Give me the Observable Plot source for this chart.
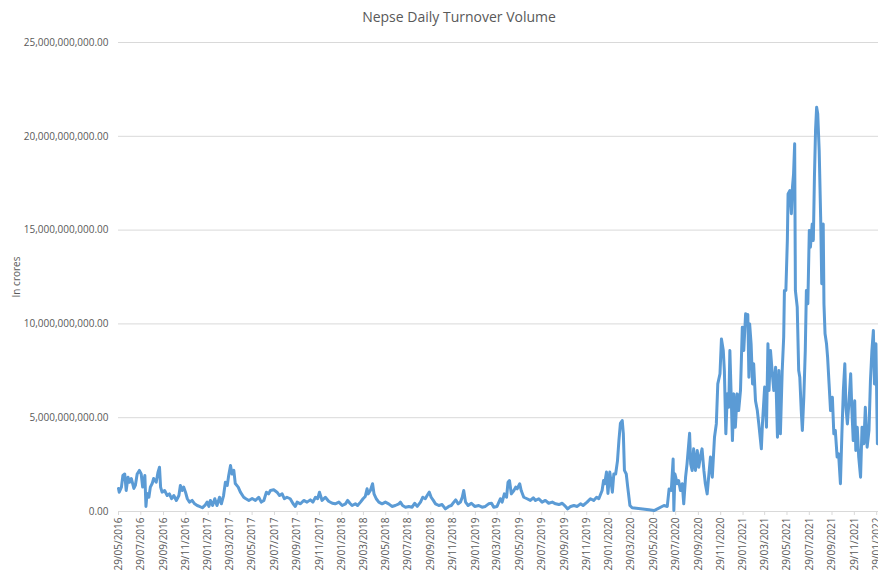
<!DOCTYPE html>
<html><head><meta charset="utf-8">
<script src="https://cdn.jsdelivr.net/npm/d3@7"></script>
<script src="https://cdn.jsdelivr.net/npm/@observablehq/plot@0.6"></script>
<style>
html,body{margin:0;padding:0;background:#fff;font-family:"Open Sans",sans-serif;}
#title{height:30px;position:relative;width:878px;}
#title span{position:absolute;left:459px;top:7px;transform:translateX(-50%);font-size:14px;color:#595959;white-space:nowrap;}
#chart svg g[aria-label="x-axis tick"] path{stroke:#d9d9d9;}
</style></head><body>
<div id="title"><span>Nepse Daily Turnover Volume</span></div>
<div id="chart"></div>
<script>
const dates = [
"2016-05-29","2016-05-31","2016-06-06","2016-06-10","2016-06-15","2016-06-19","2016-06-24","2016-06-28",
"2016-07-03","2016-07-10","2016-07-14","2016-07-19","2016-07-25","2016-07-30","2016-08-03","2016-08-09",
"2016-08-12","2016-08-15","2016-08-20","2016-08-24","2016-08-29","2016-09-02","2016-09-09","2016-09-14",
"2016-09-18","2016-09-21","2016-09-25","2016-10-02","2016-10-09","2016-10-15","2016-10-21","2016-10-27",
"2016-11-03","2016-11-10","2016-11-14","2016-11-19","2016-11-23","2016-11-28","2016-12-03","2016-12-09",
"2016-12-16","2016-12-23","2016-12-30","2017-01-05","2017-01-13","2017-01-20","2017-01-26","2017-01-31",
"2017-02-04","2017-02-10","2017-02-16","2017-02-22","2017-03-01","2017-03-06","2017-03-12","2017-03-17",
"2017-03-22","2017-03-26","2017-03-31","2017-04-04","2017-04-09","2017-04-13","2017-04-21","2017-04-27",
"2017-05-06","2017-05-11","2017-05-20","2017-05-29","2017-06-07","2017-06-16","2017-06-23","2017-06-30",
"2017-07-07","2017-07-13","2017-07-18","2017-07-27","2017-08-05","2017-08-12","2017-08-19","2017-08-25",
"2017-09-01","2017-09-10","2017-09-18","2017-09-24","2017-09-29","2017-10-08","2017-10-17","2017-10-26",
"2017-11-04","2017-11-11","2017-11-18","2017-11-24","2017-11-29","2017-12-06","2017-12-15","2017-12-24",
"2018-01-03","2018-01-11","2018-01-21","2018-01-30","2018-02-08","2018-02-14","2018-02-20","2018-02-26",
"2018-03-07","2018-03-13","2018-03-21","2018-03-28","2018-04-03","2018-04-08","2018-04-11","2018-04-17",
"2018-04-23","2018-04-27","2018-05-03","2018-05-10","2018-05-19","2018-05-28","2018-06-06","2018-06-15",
"2018-06-24","2018-07-04","2018-07-08","2018-07-14","2018-07-22","2018-07-31","2018-08-09","2018-08-16",
"2018-08-23","2018-09-01","2018-09-07","2018-09-14","2018-09-19","2018-09-25","2018-09-30","2018-10-06",
"2018-10-12","2018-10-21","2018-10-30","2018-11-08","2018-11-17","2018-11-24","2018-12-01","2018-12-06",
"2018-12-13","2018-12-19","2018-12-24","2018-12-28","2019-01-02","2019-01-09","2019-01-18","2019-01-27",
"2019-02-07","2019-02-16","2019-02-25","2019-03-06","2019-03-14","2019-03-20","2019-03-29","2019-04-07",
"2019-04-12","2019-04-18","2019-04-24","2019-04-28","2019-05-02","2019-05-07","2019-05-14","2019-05-19",
"2019-05-23","2019-05-30","2019-06-03","2019-06-10","2019-06-19","2019-06-28","2019-07-06","2019-07-12",
"2019-07-21","2019-07-30","2019-08-08","2019-08-17","2019-08-27","2019-09-05","2019-09-14","2019-09-23",
"2019-10-02","2019-10-08","2019-10-16","2019-10-25","2019-11-03","2019-11-12","2019-11-19","2019-11-30",
"2019-12-09","2019-12-18","2019-12-26","2020-01-01","2020-01-10","2020-01-14","2020-01-17","2020-01-22",
"2020-01-26","2020-01-31","2020-02-07","2020-02-11","2020-02-16","2020-02-21","2020-02-25","2020-02-29",
"2020-03-05","2020-03-08","2020-03-11","2020-03-16","2020-03-20","2020-03-26","2020-04-01","2020-05-17",
"2020-05-31","2020-06-27","2020-07-06","2020-07-11","2020-07-17","2020-07-22","2020-07-24","2020-07-27",
"2020-07-29","2020-08-02","2020-08-06","2020-08-11","2020-08-16","2020-08-20","2020-08-25","2020-08-29",
"2020-09-05","2020-09-08","2020-09-12","2020-09-16","2020-09-21","2020-09-26","2020-09-30","2020-10-05",
"2020-10-09","2020-10-14","2020-10-18","2020-10-23","2020-10-27","2020-11-01","2020-11-06","2020-11-12",
"2020-11-17","2020-11-21","2020-11-27","2020-12-01","2020-12-06","2020-12-09","2020-12-13","2020-12-17",
"2020-12-21","2020-12-24","2020-12-28","2020-12-31","2021-01-04","2021-01-08","2021-01-13","2021-01-17",
"2021-01-22","2021-01-27","2021-01-31","2021-02-05","2021-02-09","2021-02-11","2021-02-14","2021-02-16",
"2021-02-20","2021-02-24","2021-02-27","2021-03-04","2021-03-09","2021-03-13","2021-03-20","2021-03-23",
"2021-03-29","2021-04-03","2021-04-07","2021-04-10","2021-04-14","2021-04-19","2021-04-23","2021-04-28",
"2021-05-03","2021-05-07","2021-05-11","2021-05-16","2021-05-20","2021-05-22","2021-05-26","2021-05-30",
"2021-06-01","2021-06-06","2021-06-10","2021-06-13","2021-06-16","2021-06-19","2021-06-21","2021-06-26",
"2021-06-30","2021-07-03","2021-07-07","2021-07-10","2021-07-14","2021-07-18","2021-07-21","2021-07-25",
"2021-07-29","2021-08-01","2021-08-06","2021-08-09","2021-08-12","2021-08-15","2021-08-18","2021-08-21",
"2021-08-25","2021-08-29","2021-09-01","2021-09-05","2021-09-07","2021-09-10","2021-09-14","2021-09-17",
"2021-09-21","2021-09-25","2021-09-30","2021-10-04","2021-10-08","2021-10-13","2021-10-17","2021-10-22",
"2021-10-26","2021-10-30","2021-11-03","2021-11-06","2021-11-10","2021-11-14","2021-11-19","2021-11-22",
"2021-11-26","2021-11-30","2021-12-03","2021-12-07","2021-12-11","2021-12-16","2021-12-20","2021-12-25",
"2021-12-29","2022-01-03","2022-01-08","2022-01-12","2022-01-16","2022-01-20","2022-01-23","2022-01-27",
"2022-01-31","2022-02-03"
];
// daily turnover, in billions of rupees
const turnoverBn = [
1.23,1.03,1.30,1.92,2.00,1.12,1.83,1.56,
1.76,1.23,1.39,2.00,2.19,2.00,1.30,1.92,
0.27,0.96,0.76,1.30,1.49,1.76,1.56,2.10,
2.36,1.30,1.03,1.12,0.85,0.94,0.68,0.85,
0.59,0.85,1.39,1.12,1.30,1.03,0.68,0.50,
0.59,0.41,0.32,0.27,0.20,0.32,0.50,0.27,
0.59,0.32,0.68,0.32,0.76,0.41,0.85,1.56,
1.39,1.92,2.45,2.00,2.19,1.49,1.30,1.03,
0.76,0.69,0.59,0.69,0.59,0.76,0.50,0.59,
1.03,0.94,1.12,1.16,1.03,0.85,0.94,0.68,
0.76,0.68,0.41,0.27,0.50,0.41,0.59,0.50,
0.62,0.50,0.76,0.68,1.03,0.59,0.76,0.55,
0.44,0.41,0.50,0.32,0.41,0.59,0.44,0.32,
0.41,0.32,0.50,0.68,0.80,1.21,0.94,1.12,
1.48,0.94,0.68,0.50,0.41,0.50,0.41,0.27,
0.32,0.41,0.50,0.32,0.23,0.27,0.23,0.44,
0.27,0.50,0.76,0.68,0.85,1.03,0.76,0.59,
0.41,0.32,0.37,0.14,0.27,0.32,0.50,0.62,
0.41,0.50,0.76,1.12,0.50,0.32,0.44,0.27,
0.32,0.23,0.27,0.41,0.44,0.23,0.27,0.68,
0.50,0.94,0.76,1.56,1.65,0.94,1.12,1.30,
1.21,1.48,1.12,0.76,0.68,0.59,0.73,0.59,
0.68,0.50,0.59,0.44,0.50,0.41,0.37,0.44,
0.27,0.14,0.27,0.32,0.27,0.41,0.32,0.50,
0.68,0.59,0.76,0.68,1.12,1.65,1.48,2.10,
0.96,2.10,1.03,2.00,2.00,2.70,3.80,4.70,
4.85,4.15,2.19,2.00,1.30,0.32,0.20,0.09,
0.05,0.32,0.27,1.20,1.12,2.80,0.05,2.00,
1.83,1.48,1.65,1.12,1.48,0.41,1.83,2.54,
4.17,2.54,2.19,3.34,2.19,3.25,2.36,2.98,
3.34,2.19,1.48,0.94,1.83,2.90,1.83,3.96,
4.67,6.80,7.34,9.20,8.58,7.50,4.14,6.27,
5.56,8.58,5.90,3.78,6.27,4.49,6.27,5.38,
6.45,9.82,8.58,10.54,10.00,10.50,7.16,10.00,
8.94,6.80,7.87,5.90,5.38,4.67,3.34,4.67,
6.63,4.49,8.94,6.45,8.58,7.34,6.45,7.69,
3.96,7.52,4.14,7.52,9.29,11.78,11.78,14.45,
16.93,17.11,15.87,17.29,18.00,19.60,11.78,10.89,
7.52,7.16,5.38,4.32,6.09,8.58,11.78,11.07,
14.98,14.09,15.33,14.45,17.82,20.30,21.55,21.20,
19.24,15.69,12.14,15.33,11.07,9.47,8.94,8.22,
6.80,5.38,6.09,4.14,4.32,2.90,3.07,1.48,
4.14,6.45,7.87,5.56,4.67,5.74,7.34,5.56,
3.78,5.90,3.25,4.49,2.90,1.83,4.49,3.61,
5.56,3.43,4.32,6.98,8.58,9.65,6.80,8.94,
3.61,4.67
];
const yTicks = [0, 5e9, 10e9, 15e9, 20e9, 25e9];
const xTickDates = [
"2016-05-29","2016-07-29","2016-09-29","2016-11-29","2017-01-29","2017-03-29","2017-05-29","2017-07-29",
"2017-09-29","2017-11-29","2018-01-29","2018-03-29","2018-05-29","2018-07-29","2018-09-29","2018-11-29",
"2019-01-29","2019-03-29","2019-05-29","2019-07-29","2019-09-29","2019-11-29","2020-01-29","2020-03-29",
"2020-05-29","2020-07-29","2020-09-29","2020-11-29","2021-01-29","2021-03-29","2021-05-29","2021-07-29",
"2021-09-29","2021-11-29","2022-01-29"
];
const xStart = "2016-05-29", xEnd = "2022-02-03";

const data = dates.map((d, i) => ({date: new Date(d), value: turnoverBn[i] * 1e9}));
const fmtDate = d3.utcFormat("%d/%m/%Y");

const chart = Plot.plot({
  width: 878,
  height: 541,
  marginTop: 12,
  marginBottom: 60,
  marginLeft: 118,
  marginRight: 0,
  style: {fontFamily: "'Open Sans', sans-serif", fontSize: "10px", color: "#595959", background: "#fff"},
  x: {
    type: "utc",
    domain: [new Date(xStart), new Date(xEnd)],
    ticks: xTickDates.map(d => new Date(d)),
    tickFormat: fmtDate,
    tickRotate: -90,
    tickSize: 4,
    tickPadding: 2,
    label: null
  },
  y: {
    domain: [0, 25e9],
    ticks: yTicks,
    tickFormat: d3.format(",.2f"),
    tickSize: 0,
    tickPadding: 10,
    label: "In crores",
    labelAnchor: "center",
    labelArrow: "none",
    labelOffset: 106
  },
  marks: [
    Plot.ruleY(yTicks, {stroke: "#d9d9d9", strokeWidth: 1}),
    Plot.line(data, {x: "date", y: "value", stroke: "#5b9bd5", strokeWidth: 3, strokeLinejoin: "round", strokeLinecap: "round"})
  ]
});
document.getElementById("chart").appendChild(chart);
</script>
</body></html>
